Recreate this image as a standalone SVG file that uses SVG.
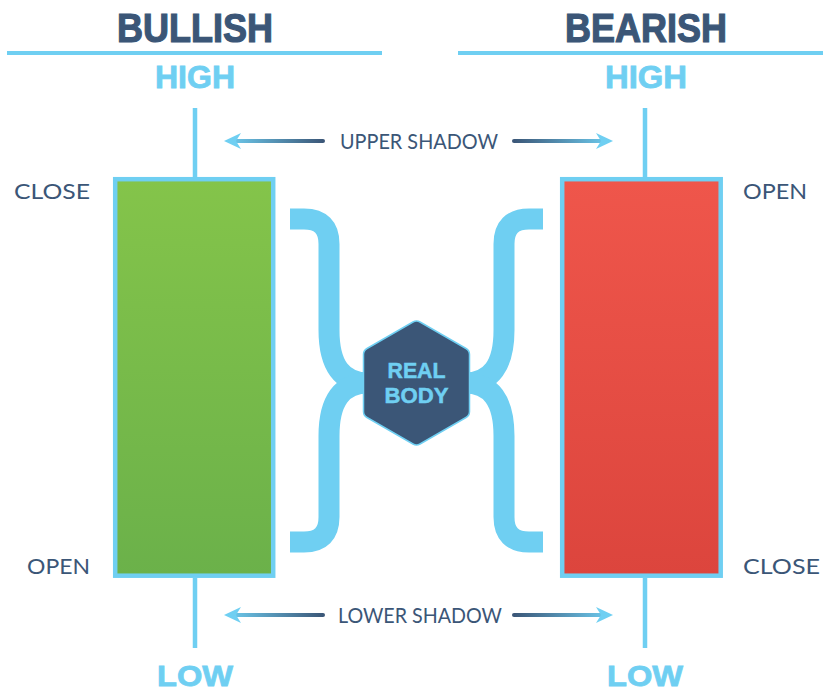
<svg xmlns="http://www.w3.org/2000/svg" width="823" height="693" viewBox="0 0 823 693">
<defs>
<style>
.title{font-family:"Liberation Sans",Arial,sans-serif;font-weight:bold;font-size:40px;fill:#3b5677;stroke:#3b5677;stroke-width:1.2;text-anchor:middle}
.hl{font-family:"Liberation Sans",Arial,sans-serif;font-weight:bold;font-size:32px;fill:#6fcff2;stroke:#6fcff2;stroke-width:0.8;text-anchor:middle}
.low{font-size:30px}
.lbl{font-family:"Lato","Open Sans",sans-serif;font-size:22px;fill:#3b5677}
.rule{stroke:#6fcff2;stroke-width:4}
.wick{stroke:#6fcff2;stroke-width:4.5}
.box{stroke:#6fcff2;stroke-width:4.5}
.brace{fill:none;stroke:#6fcff2;stroke-width:21}
.shaft{stroke-width:4;stroke-linecap:round}
</style>
<linearGradient id="gGreen" x1="0" y1="0" x2="0" y2="1"><stop offset="0" stop-color="#84c44a"/><stop offset="1" stop-color="#6bb14a"/></linearGradient>
<linearGradient id="gRed" x1="0" y1="0" x2="0" y2="1"><stop offset="0" stop-color="#ef564b"/><stop offset="1" stop-color="#dc453d"/></linearGradient>
<linearGradient id="aL" gradientUnits="userSpaceOnUse" x1="225" y1="0" x2="324" y2="0"><stop offset="0" stop-color="#6fcff2"/><stop offset="1" stop-color="#3b5677"/></linearGradient>
<linearGradient id="aR" gradientUnits="userSpaceOnUse" x1="513" y1="0" x2="613" y2="0"><stop offset="0" stop-color="#3b5677"/><stop offset="1" stop-color="#6fcff2"/></linearGradient>
</defs>

<g id="headers">
<text class="title" x="195" y="42" textLength="156" lengthAdjust="spacingAndGlyphs">BULLISH</text>
<text class="title" x="646" y="42" textLength="162" lengthAdjust="spacingAndGlyphs">BEARISH</text>
<line class="rule" x1="7" y1="53" x2="382" y2="53"/>
<line class="rule" x1="458" y1="53" x2="823" y2="53"/>
</g>

<g id="bullish-candle">
<text class="hl" x="195" y="88" textLength="80" lengthAdjust="spacingAndGlyphs">HIGH</text>
<line class="wick" x1="195" y1="108" x2="195" y2="178"/>
<rect class="box" x="115.2" y="179.2" width="158" height="396.5" fill="url(#gGreen)"/>
<line class="wick" x1="195" y1="578" x2="195" y2="648"/>
<text class="hl low" x="195" y="686" textLength="76" lengthAdjust="spacingAndGlyphs">LOW</text>
<text class="lbl" x="90" y="199" text-anchor="end" textLength="76" lengthAdjust="spacingAndGlyphs">CLOSE</text>
<text class="lbl" x="90" y="574" text-anchor="end" textLength="63" lengthAdjust="spacingAndGlyphs">OPEN</text>
</g>

<g id="bearish-candle">
<text class="hl" x="646" y="88" textLength="82" lengthAdjust="spacingAndGlyphs">HIGH</text>
<line class="wick" x1="645" y1="108" x2="645" y2="178"/>
<rect class="box" x="562.2" y="179.2" width="158.5" height="396.5" fill="url(#gRed)"/>
<line class="wick" x1="645" y1="578" x2="645" y2="648"/>
<text class="hl low" x="645" y="686" textLength="76" lengthAdjust="spacingAndGlyphs">LOW</text>
<text class="lbl" x="743" y="199" textLength="64" lengthAdjust="spacingAndGlyphs">OPEN</text>
<text class="lbl" x="743" y="574" textLength="77" lengthAdjust="spacingAndGlyphs">CLOSE</text>
</g>

<g id="real-body">
<path class="brace" d="M290,219 H304 Q329,219 329,244 V330 Q329,383 368,383"/>
<path class="brace" d="M290,542 H304 Q329,542 329,517 V436 Q329,383 368,383"/>
<path class="brace" d="M543,219 H529 Q504,219 504,244 V330 Q504,383 465,383"/>
<path class="brace" d="M543,542 H529 Q504,542 504,517 V436 Q504,383 465,383"/>
<path d="M413,322 Q416.5,320 420,322 L466,348.5 Q469.5,350.5 469.5,354.5 L469.5,411.5 Q469.5,415.5 466,417.5 L420,444 Q416.5,446 413,444 L367,417.5 Q363.5,415.5 363.5,411.5 L363.5,354.5 Q363.5,350.5 367,348.5 Z" fill="#3b5677" stroke="#6fcff2" stroke-width="1.5"/>
<text class="hl" x="416.5" y="378" style="font-size:22px;stroke-width:0.5" textLength="58" lengthAdjust="spacingAndGlyphs">REAL</text>
<text class="hl" x="416.5" y="403" style="font-size:22px;stroke-width:0.5" textLength="64" lengthAdjust="spacingAndGlyphs">BODY</text>
</g>

<g id="upper-shadow">
<text class="lbl" x="419" y="149" text-anchor="middle" textLength="158" lengthAdjust="spacingAndGlyphs">UPPER SHADOW</text>
</g>
<g id="lower-shadow">
<text class="lbl" x="420" y="623" text-anchor="middle" textLength="164" lengthAdjust="spacingAndGlyphs">LOWER SHADOW</text>
</g>

<g id="connectors">
<line class="shaft" x1="234" y1="141" x2="323" y2="141" stroke="url(#aL)"/>
<path d="M224,141 L241,133 L236,141 L241,149 Z" fill="#6fcff2"/>
<line class="shaft" x1="514" y1="141" x2="603" y2="141" stroke="url(#aR)"/>
<path d="M613,141 L596,133 L601,141 L596,149 Z" fill="#6fcff2"/>
<line class="shaft" x1="234" y1="615" x2="323" y2="615" stroke="url(#aL)"/>
<path d="M224,615 L241,607 L236,615 L241,623 Z" fill="#6fcff2"/>
<line class="shaft" x1="514" y1="615" x2="603" y2="615" stroke="url(#aR)"/>
<path d="M613,615 L596,607 L601,615 L596,623 Z" fill="#6fcff2"/>
</g>
</svg>
